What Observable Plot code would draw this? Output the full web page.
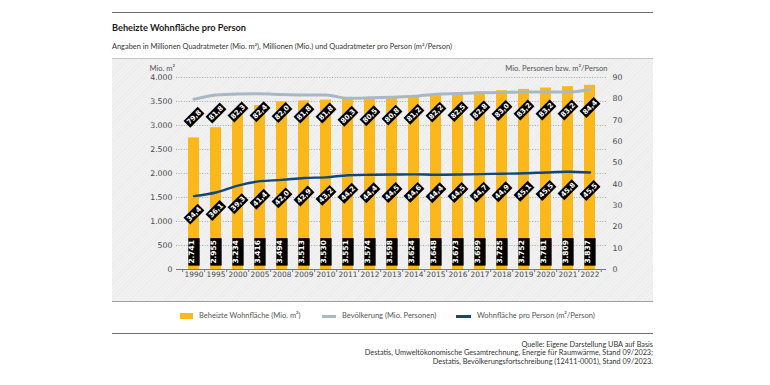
<!DOCTYPE html>
<html lang="de">
<head>
<meta charset="utf-8">
<script src="https://cdn.jsdelivr.net/npm/d3@7"></script>
<script src="https://cdn.jsdelivr.net/npm/@observablehq/plot@0.6"></script>
<style>
  html, body { margin: 0; padding: 0; background: #fff; }
  #root { position: relative; width: 770px; height: 385px; overflow: hidden; font-family: Lato, "Liberation Sans", sans-serif; color: #222; }
  .rule { position: absolute; left: 112px; width: 541px; height: 1px; background: #6f6f6f; }
  #title { position: absolute; left: 112px; top: 22px; font-size: 9.2px; font-weight: bold; color: #1a1a1a; white-space: nowrap; }
  #subtitle { position: absolute; left: 112px; top: 41.5px; font-size: 7.4px; color: #333; white-space: nowrap; }
  #panel { position: absolute; left: 112px; top: 58px; width: 541px; height: 244px;
    background: repeating-linear-gradient(135deg, #ececec 0px, #ececec 1px, #f1f1f1 1px, #f1f1f1 3px);
    border-top: 1px solid #c4c4c4; border-bottom: 1px solid #a0a0a0; box-sizing: border-box; }
  #panel svg { position: absolute; left: 0; top: -1px; }
  #legend { position: absolute; left: 0; top: 311px; width: 770px; height: 12px; font-size: 7.5px; color: #555; }
  .item { position: absolute; top: 0; height: 10px; white-space: nowrap; }
  .sw { position: absolute; }
  .lt { position: absolute; top: 0; line-height: 10px; }
  #source { position: absolute; left: 112px; top: 340.5px; width: 541px; text-align: right; font-size: 7.3px; line-height: 8.6px; color: #333; }
</style>
</head>
<body>
<div id="root">
  <div class="rule" style="top:12px"></div>
  <div id="title">Beheizte Wohnfläche pro Person</div>
  <div id="subtitle">Angaben in Millionen Quadratmeter (Mio. m²), Millionen (Mio.) und Quadratmeter pro Person (m²/Person)</div>
  <div id="panel"></div>
  <div id="legend"></div>
  <div class="rule" style="top:333px"></div>
  <div id="source">Quelle: Eigene Darstellung UBA auf Basis<br>Destatis, Umweltökonomische Gesamtrechnung, Energie für Raumwärme, Stand 09/2023;<br>Destatis, Bevölkerungsfortschreibung (12411-0001), Stand 09/2023.</div>
</div>
<script>
// ---- data ----
const years = ["1990","1995","2000","2005","2008","2009","2010","2011","2012","2013","2014","2015","2016","2017","2018","2019","2020","2021","2022"];
const heatedArea = [2741,2955,3234,3416,3494,3513,3530,3551,3574,3598,3624,3648,3673,3699,3725,3752,3781,3809,3837];
const population = [79.8,81.8,82.3,82.4,82.0,81.8,81.8,80.3,80.5,80.8,81.2,82.2,82.5,82.8,83.0,83.2,83.2,83.2,84.4];
const areaPerPerson = [34.4,36.1,39.3,41.4,42.0,42.9,43.2,44.2,44.4,44.5,44.6,44.4,44.5,44.7,44.9,45.1,45.5,45.8,45.5];
const leftTicks = [0,500,1000,1500,2000,2500,3000,3500,4000];
const rightTicks = [0,10,20,30,40,50,60,70,80,90];
const leftMax = 4000, rightMax = 90;

const seriesNames = ["Beheizte Wohnfläche (Mio. m²)", "Bevölkerung (Mio. Personen)", "Wohnfläche pro Person (m²/Person)"];
const colors = { area: "#fbb81b", pop: "#a9b9c4", pp: "#114877" };

// ---- helpers ----
const de = d3.formatLocale({decimal: ",", thousands: ".", grouping: [3], currency: ["", " €"]});
const fmtInt = de.format(",d");
const fmt1 = de.format(",.1f");
const k = leftMax / rightMax;

const data = years.map((y, i) => ({year: y, area: heatedArea[i], pop: population[i], pp: areaPerPerson[i]}));

const W = 541, H = 244, mL = 64, mR = 47, mT = 19, mB = 33;
const step = (W - mL - mR) / years.length;

function rotRect(L, T, ang) {
  return { draw(ctx) {
    const pts = [[-L/2,-T/2],[L/2,-T/2],[L/2,T/2],[-L/2,T/2]];
    const cs = Math.cos(ang), sn = Math.sin(ang);
    pts.forEach(([x, y], j) => {
      const X = x*cs - y*sn, Y = x*sn + y*cs;
      j ? ctx.lineTo(X, Y) : ctx.moveTo(X, Y);
    });
    ctx.closePath();
  }};
}
const diamond = rotRect(20, 9.6, -Math.PI/4);
const vbox = rotRect(27.5, 11.3, -Math.PI/2);

const lblOff = 18;

const chart = Plot.plot({
  width: W, height: H,
  marginLeft: mL, marginRight: mR, marginTop: mT, marginBottom: mB,
  style: {background: "transparent", fontFamily: "DejaVu Sans", fontSize: "7.8px", color: "#4a4a4a", overflow: "visible"},
  x: {type: "band", domain: years, paddingInner: 0.5, paddingOuter: 0.25},
  y: {domain: [0, leftMax]},
  marks: [
    Plot.gridY(leftTicks, {stroke: "#8c8c8c", strokeOpacity: 0.9, strokeDasharray: "1,1.6", strokeWidth: 0.8}),
    Plot.axisY(leftTicks, {tickSize: 0, tickPadding: 4, tickFormat: fmtInt, label: null, fill: "#4a4a4a"}),
    Plot.axisY(rightTicks.map(v => v * k), {anchor: "right", tickSize: 0, tickPadding: 6, tickFormat: v => String(Math.round(v / k)), label: null, fill: "#4a4a4a"}),
    Plot.barY(data, {x: "year", y: "area", fill: colors.area}),
    Plot.ruleY([0], {stroke: "#7a7a7a", strokeWidth: 1}),
    Plot.ruleX(years, {x: d => d, y1: 0, y2: 0, insetBottom: -3, dx: -step / 2, stroke: "#7a7a7a"}),
    Plot.ruleX(years.slice(-1), {x: d => d, y1: 0, y2: 0, insetBottom: -3, dx: step / 2, stroke: "#7a7a7a"}),
    Plot.axisX({tickSize: 0, tickPadding: 2.5, label: null, fill: "#4a4a4a", fontSize: "7.4px"}),
    Plot.line(data, {x: "year", y: d => d.pop * k, stroke: colors.pop, strokeWidth: 3, curve: "monotone-x"}),
    Plot.line(data, {x: "year", y: d => d.pp * k, stroke: colors.pp, strokeWidth: 2.4, curve: "monotone-x"}),
    // diamond labels population
    Plot.dot(data, {x: "year", y: d => d.pop * k, dy: lblOff, symbol: diamond, fill: "#000", stroke: "none"}),
    Plot.text(data, {x: "year", y: d => d.pop * k, dy: lblOff, text: d => fmt1(d.pop), rotate: -45, fill: "#fff", fontWeight: "bold", fontSize: 6.9}),
    // diamond labels per person
    Plot.dot(data, {x: "year", y: d => d.pp * k, dy: lblOff, symbol: diamond, fill: "#000", stroke: "none"}),
    Plot.text(data, {x: "year", y: d => d.pp * k, dy: lblOff, text: d => fmt1(d.pp), rotate: -45, fill: "#fff", fontWeight: "bold", fontSize: 6.9}),
    // bar value labels
    Plot.dot(data, {x: "year", frameAnchor: "bottom", dy: -17.6, symbol: vbox, fill: "#000", stroke: "none"}),
    Plot.text(data, {x: "year", frameAnchor: "bottom", dy: -17.6, text: d => fmtInt(d.area), rotate: -90, fill: "#fff", fontWeight: "bold", fontSize: 7.4}),
    // axis titles
    Plot.text(["Mio. m²"], {frameAnchor: "top-left", dx: -27, dy: -12, textAnchor: "start", fontFamily: "Lato", fontSize: 7.6, fill: "#555"}),
    Plot.text(["Mio. Personen bzw. m²/Person"], {frameAnchor: "top-right", dx: 1, dy: -12, textAnchor: "end", fontFamily: "Lato", fontSize: 7.6, fill: "#555"})
  ]
});
document.getElementById("panel").appendChild(chart);

// ---- legend ----
const legend = document.getElementById("legend");
const legendLayout = [
  {sx: 180, w: 13, h: 6, tx: 199, c: colors.area},
  {sx: 322, w: 14, h: 3, tx: 342, c: colors.pop},
  {sx: 456, w: 15, h: 3, tx: 477, c: colors.pp}
];
seriesNames.forEach((name, i) => {
  const L = legendLayout[i];
  const s = document.createElement("span"); s.className = "sw";
  s.style.left = L.sx + "px"; s.style.top = (5 - L.h / 2) + "px";
  s.style.width = L.w + "px"; s.style.height = L.h + "px"; s.style.background = L.c;
  const t = document.createElement("span"); t.className = "lt";
  t.style.left = L.tx + "px"; t.textContent = name;
  legend.appendChild(s); legend.appendChild(t);
});
</script>
</body>
</html>
